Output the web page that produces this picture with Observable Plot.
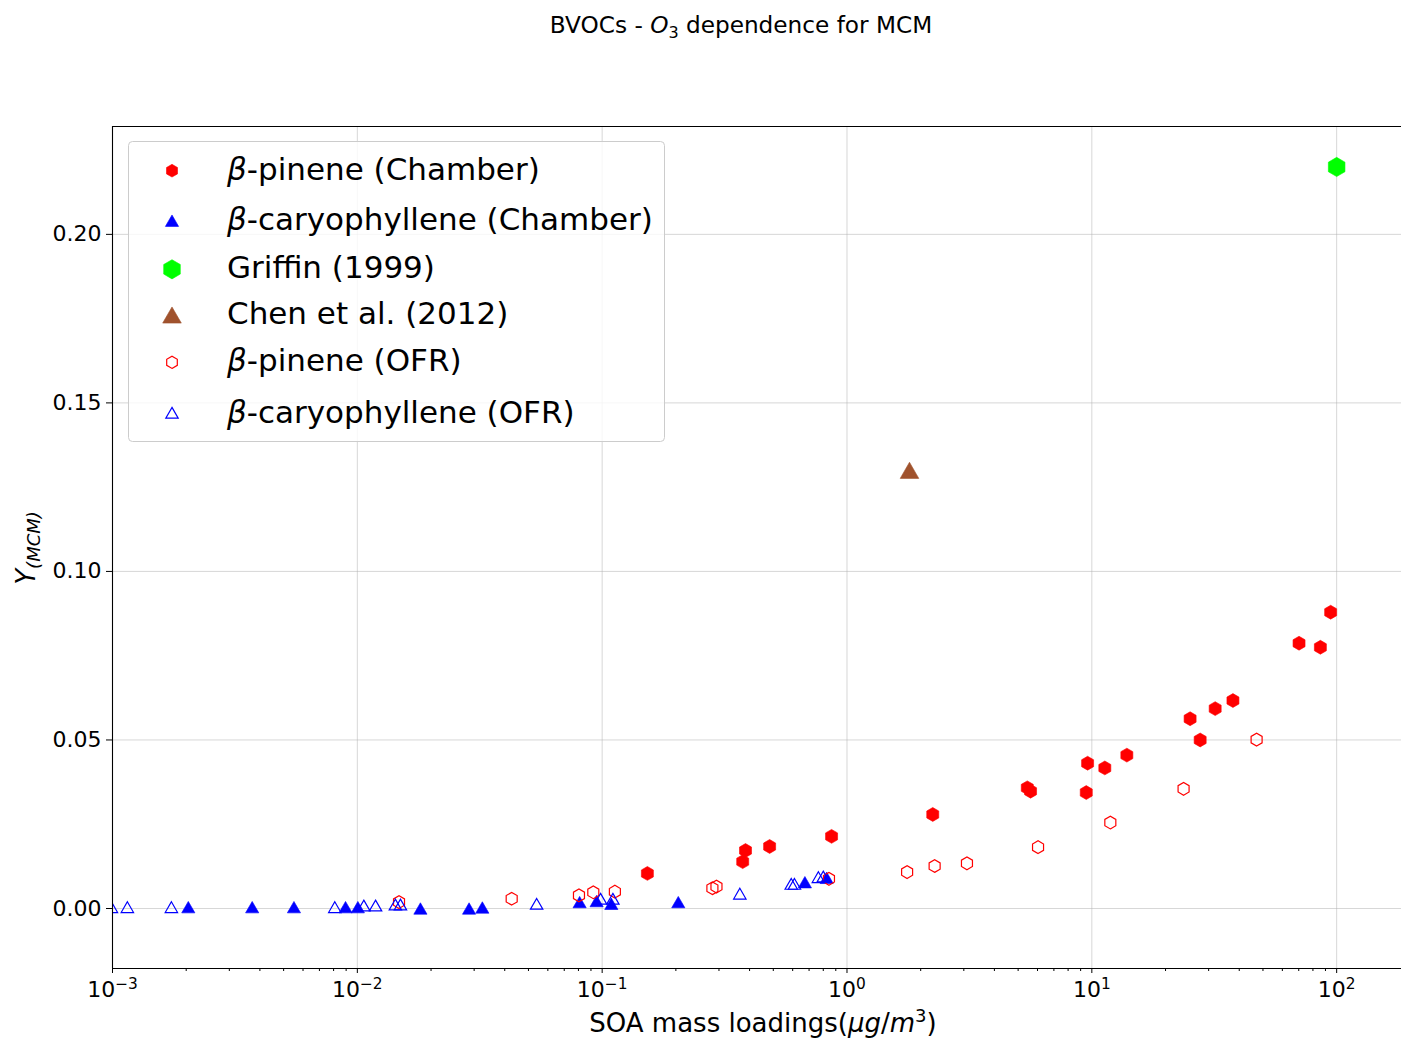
<!DOCTYPE html>
<html>
<head>
<meta charset="utf-8">
<script src="https://cdn.jsdelivr.net/npm/d3@7"></script>
<script src="https://cdn.jsdelivr.net/npm/@observablehq/plot@0.6"></script>
<style>
  html, body { margin: 0; padding: 0; background: #fff; }
  #wrap { position: relative; width: 1401px; height: 1038px; overflow: hidden; font-family: "DejaVu Sans", sans-serif; background:#fff; }
  #wrap > svg { position: absolute; left: 0; top: 0; }
</style>
</head>
<body>
<div id="wrap"></div>
<script>
// ---------- data ----------
// beta-pinene (Chamber) — filled red hexagons
const bpChamberX = [0.153, 0.375, 0.385, 0.483, 0.865, 2.24, 5.45, 5.62, 9.61, 9.49, 11.3, 13.9, 25.2, 27.7, 31.9, 37.7, 70.2, 85.8, 94.5];
const bpChamberY = [0.0104, 0.0139, 0.0172, 0.0184, 0.0214, 0.0279, 0.0358, 0.0348, 0.0431, 0.0344, 0.0417, 0.0455, 0.0563, 0.0500, 0.0593, 0.0617, 0.0787, 0.0775, 0.0879];
// beta-caryophyllene (Chamber) — filled blue triangles
const bcChamberX = [0.00204, 0.00372, 0.00551, 0.00895, 0.01005, 0.0181, 0.0286, 0.0324, 0.0809, 0.0949, 0.109, 0.2046, 0.673, 0.826];
const bcChamberY = [0.0004, 0.0004, 0.0004, 0.0004, 0.0004, 0.0000, 0.0000, 0.0003, 0.0019, 0.0022, 0.0014, 0.0019, 0.0078, 0.0091];
// Griffin (1999)
const griffinX = [100];
const griffinY = [0.22];
// Chen et al. (2012)
const chenX = [1.80];
const chenY = [0.130];
// beta-pinene (OFR) — open red hexagons
const bpOFRX = [0.0148, 0.0427, 0.0804, 0.0920, 0.1127, 0.282, 0.293, 0.844, 1.76, 2.28, 3.09, 6.03, 11.9, 23.7, 47.1];
const bpOFRY = [0.0019, 0.0029, 0.0039, 0.0048, 0.0050, 0.0060, 0.0065, 0.0088, 0.0108, 0.0126, 0.0134, 0.0182, 0.0255, 0.0355, 0.0501];
// beta-caryophyllene (OFR) — open blue triangles
const bcOFRX = [0.00099, 0.00115, 0.00174, 0.00809, 0.01063, 0.01187, 0.0143, 0.0150, 0.0540, 0.0985, 0.1106, 0.365, 0.592, 0.610, 0.764, 0.800];
const bcOFRY = [0.0004, 0.0004, 0.0004, 0.0004, 0.0009, 0.0009, 0.0012, 0.0012, 0.0014, 0.0029, 0.0029, 0.0044, 0.0073, 0.0073, 0.0093, 0.0095];

// axes
const xDomain = [0.001, 184];
const yDomain = [-0.0178, 0.232];
const xMajorTicks = [0.001, 0.01, 0.1, 1, 10, 100];
const xTickBase = "10";
const xTickExponents = ["\u22123", "\u22122", "\u22121", "0", "1", "2"];
const xMinorMultipliers = [2, 3, 4, 5, 6, 7, 8, 9];
const yTicks = [0, 0.05, 0.10, 0.15, 0.20];
const yTickLabels = ["0.00", "0.05", "0.10", "0.15", "0.20"];

// legend
const legendLabels = ["-pinene (Chamber)", "-caryophyllene (Chamber)", "Griffin (1999)", "Chen et al. (2012)", "-pinene (OFR)", "-caryophyllene (OFR)"];
const legendBeta = [true, true, false, false, true, true];

// ---------- build ----------
const rows = (xs, ys) => xs.map((x, i) => ({x, y: ys[i]}));
const xMinorTicks = xMajorTicks.flatMap(t => xMinorMultipliers.map(m => m * t)).filter(v => v < xDomain[1]);

const chart = Plot.plot({
  width: 1401,
  height: 1038,
  marginTop: 126,
  marginBottom: 70,
  marginLeft: 112,
  marginRight: 0,
  style: {fontFamily: '"DejaVu Sans", sans-serif', fontSize: "22px", color: "#000", background: "transparent", overflow: "visible"},
  x: {type: "log", domain: xDomain},
  y: {type: "linear", domain: yDomain},
  marks: [
    Plot.ruleX(xMajorTicks, {stroke: "#b0b0b0", strokeOpacity: 0.5, strokeWidth: 1}),
    Plot.ruleY(yTicks, {stroke: "#b0b0b0", strokeOpacity: 0.5, strokeWidth: 1}),
    Plot.axisY(yTicks, {tickFormat: d => yTickLabels[yTicks.indexOf(d)], tickSize: 6, tickPadding: 5, fontSize: 22, label: null}),
    Plot.axisX(xMajorTicks, {tickFormat: d => xTickBase + "^" + xTickExponents[xMajorTicks.indexOf(d)], tickSize: 5, tickPadding: 8, fontSize: 22, label: null}),
    Plot.axisX(xMinorTicks, {tickSize: 3, fill: "none", label: null}),
    Plot.dot(rows(bpChamberX, bpChamberY), {x: "x", y: "y", symbol: "hexagon", r: 6, fill: "#ff0000", stroke: "#ff0000", strokeWidth: 0.6, clip: true}),
    Plot.dot(rows(bcChamberX, bcChamberY), {x: "x", y: "y", symbol: "triangle", r: 4.9, dy: 1.9, fill: "#0000ff", stroke: "#0000ff", strokeWidth: 0.6, clip: true}),
    Plot.dot(rows(griffinX, griffinY), {x: "x", y: "y", symbol: "hexagon", r: 8.3, fill: "#00ff00", stroke: "#00ff00", strokeWidth: 0.6, clip: true}),
    Plot.dot(rows(chenX, chenY), {x: "x", y: "y", symbol: "triangle", r: 6.9, dy: 2.7, fill: "#a0522d", stroke: "#a0522d", strokeWidth: 0.6, clip: true}),
    Plot.dot(rows(bpOFRX, bpOFRY), {x: "x", y: "y", symbol: "hexagon", r: 5.5, fill: "none", stroke: "#ff0000", strokeWidth: 1.2, clip: true}),
    Plot.dot(rows(bcOFRX, bcOFRY), {x: "x", y: "y", symbol: "triangle", r: 4.6, dy: 1.8, fill: "none", stroke: "#0000ff", strokeWidth: 1.2, clip: true}),
    Plot.ruleX([xDomain[0]], {stroke: "#000", strokeWidth: 1.1}),
    Plot.ruleY([yDomain[0]], {stroke: "#000", strokeWidth: 1.1}),
    Plot.ruleY([yDomain[1]], {stroke: "#000", strokeWidth: 1.1})
  ]
});

// turn "10^e" tick labels into 10 with a real superscript
d3.select(chart).selectAll("text").each(function () {
  const s = this.textContent;
  if (s.includes("^")) {
    const [base, exp] = s.split("^");
    const t = d3.select(this);
    t.text(null);
    t.append("tspan").text(base);
    t.append("tspan").attr("font-size", 15.4).attr("dy", -8).text(exp);
  }
});

const wrap = document.getElementById("wrap");
wrap.appendChild(chart);

// ---------- overlay: title, axis labels, legend ----------
const svg = d3.select(wrap).append("svg")
  .attr("width", 1401).attr("height", 1038)
  .style("font-family", '"DejaVu Sans", sans-serif')
  .style("pointer-events", "none");

// title
const title = svg.append("text").attr("x", 741).attr("y", 33).attr("text-anchor", "middle").attr("font-size", 23.2).attr("fill", "#000");
title.append("tspan").text("BVOCs - ");
title.append("tspan").attr("font-style", "italic").text("O");
title.append("tspan").attr("font-size", 16).attr("dy", 5).text("3");
title.append("tspan").attr("dy", -5).text(" dependence for MCM");

// x label
const xl = svg.append("text").attr("x", 763).attr("y", 1032).attr("text-anchor", "middle").attr("font-size", 26).attr("fill", "#000");
xl.append("tspan").text("SOA mass loadings(");
xl.append("tspan").attr("font-style", "italic").text("\u03BCg");
xl.append("tspan").text("/");
xl.append("tspan").attr("font-style", "italic").text("m");
xl.append("tspan").attr("font-size", 18).attr("dy", -10).text("3");
xl.append("tspan").attr("dy", 10).text(")");

// y label
const yl = svg.append("text").attr("transform", "translate(35,548) rotate(-90)").attr("text-anchor", "middle").attr("font-size", 26).attr("fill", "#000");
yl.append("tspan").attr("font-style", "italic").text("Y");
yl.append("tspan").attr("font-style", "italic").attr("font-size", 18).attr("dy", 5).text("(MCM)");

// legend
const lg = svg.append("g");
lg.append("rect").attr("x", 128.5).attr("y", 141.5).attr("width", 536).attr("height", 300).attr("rx", 4)
  .attr("fill", "#fff").attr("fill-opacity", 0.8).attr("stroke", "#cccccc").attr("stroke-width", 1);

const hexPath = r => { const ry = r * 2 / Math.sqrt(3), hy = ry / 2; return `M0,${ry}L${r},${hy}L${r},${-hy}L0,${-ry}L${-r},${-hy}L${-r},${hy}Z`; };
const triPath = r => d3.symbol(d3.symbolTriangle, Math.PI * r * r)();
const legendSymbols = [
  {cy: 170.7, d: hexPath(5.5), fill: "#ff0000", stroke: "#ff0000", sw: 0.6, dy: 0},
  {cy: 220.7, d: triPath(4.9), fill: "#0000ff", stroke: "#0000ff", sw: 0.6, dy: 1.9},
  {cy: 269.3, d: hexPath(8.3), fill: "#00ff00", stroke: "#00ff00", sw: 0.6, dy: 0},
  {cy: 315.0, d: triPath(6.9), fill: "#a0522d", stroke: "#a0522d", sw: 0.6, dy: 2.7},
  {cy: 362.3, d: hexPath(5.3), fill: "none", stroke: "#ff0000", sw: 1.2, dy: 0},
  {cy: 412.7, d: triPath(4.6), fill: "none", stroke: "#0000ff", sw: 1.2, dy: 1.8}
];
const legendBaselines = [179.5, 229.5, 278.3, 323.5, 371, 423];
legendSymbols.forEach((s, i) => {
  lg.append("path").attr("d", s.d).attr("transform", `translate(172,${s.cy + s.dy})`)
    .attr("fill", s.fill).attr("stroke", s.stroke).attr("stroke-width", s.sw);
  const t = lg.append("text").attr("x", 227).attr("y", legendBaselines[i]).attr("font-size", 31).attr("fill", "#000");
  if (legendBeta[i]) t.append("tspan").attr("font-style", "italic").text("\u03B2");
  t.append("tspan").text(legendLabels[i]);
});
</script>
</body>
</html>
